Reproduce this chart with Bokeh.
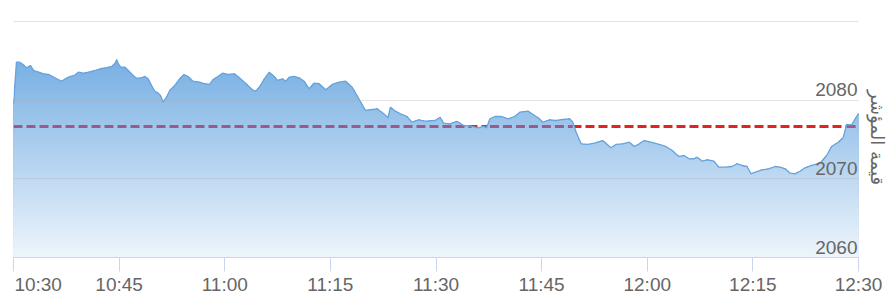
import numpy as np
from bokeh.plotting import figure
from bokeh.models import (ColumnDataSource, LabelSet, FixedTicker, Range1d,
                          LinearAxis)
from bokeh.core.properties import value
from bokeh.embed import file_html
from bokeh.resources import INLINE

# ---- data (minutes after 10:30, index value) ----
minutes = [0, 0.42, 0.89, 1.37, 1.84, 2.40, 2.87, 3.58, 4.28, 4.99,
           5.70, 6.40, 6.88, 7.35, 8.06, 8.62, 9.23, 9.94, 10.64, 11.59,
           12.30, 13.24, 13.95, 14.42, 14.66, 14.88, 15.22, 15.83, 16.30, 17.00,
           17.48, 18.19, 18.66, 19.12, 19.60, 20.07, 20.54, 20.88, 21.24, 21.72,
           22.19, 22.90, 23.60, 24.21, 24.78, 25.48, 26.43, 27.14, 27.84, 28.31,
           29.02, 29.72, 30.43, 31.38, 32.08, 33.03, 33.74, 34.35, 34.91, 35.62,
           36.32, 37.03, 37.50, 38.20, 38.68, 39.15, 39.86, 40.56, 41.27, 41.98,
           42.68, 43.39, 44.34, 45.27, 46.22, 47.16, 48.10, 49.04, 49.99, 50.70,
           51.63, 52.58, 53.19, 53.53, 54.23, 55.16, 55.87, 56.58, 57.53, 58.47,
           59.89, 60.59, 61.06, 62.01, 62.94, 63.42, 63.89, 65.06, 66.01, 66.71,
           67.18, 67.66, 68.37, 69.30, 70.25, 71.19, 71.90, 73.07, 73.78, 74.49,
           75.19, 76.14, 77.07, 78.02, 78.97, 79.43, 79.90, 80.61, 81.55, 82.50,
           83.67, 84.85, 85.55, 86.50, 87.45, 88.15, 88.86, 89.57, 90.50, 91.69,
           92.62, 93.57, 94.03, 94.51, 95.22, 95.93, 96.63, 97.10, 97.81, 98.51,
           99.46, 100.17, 101.10, 102.04, 102.75, 103.46, 104.17, 104.73, 105.34, 106.29,
           107.24, 108.17, 108.87, 109.58, 110.29, 110.99, 111.70, 112.41, 113.35, 114.53,
           115.48, 116.18, 117.13, 117.84, 118.31, 119.01, 119.82, 120.0]

index_values = [2079.62, 2084.88, 2084.88, 2084.59, 2084.17, 2084.46, 2083.82, 2083.61, 2083.40, 2083.31,
                2082.97, 2082.64, 2082.46, 2082.76, 2083.06, 2083.18, 2083.61, 2083.48, 2083.61, 2083.82,
                2084.04, 2084.17, 2084.33, 2084.75, 2085.22, 2084.68, 2084.24, 2084.24, 2083.82, 2083.18,
                2082.84, 2082.89, 2083.06, 2082.76, 2081.91, 2081.18, 2080.93, 2080.64, 2079.78, 2080.42,
                2081.27, 2081.91, 2082.76, 2083.31, 2083.06, 2082.46, 2082.33, 2082.13, 2082.04, 2082.64,
                2083.06, 2083.48, 2083.31, 2083.40, 2082.89, 2082.13, 2081.49, 2081.15, 2081.69, 2082.76,
                2083.61, 2083.06, 2082.55, 2082.76, 2082.46, 2082.97, 2083.06, 2082.89, 2082.46, 2081.49,
                2082.20, 2082.13, 2081.36, 2082.04, 2082.33, 2082.46, 2081.69, 2080.22, 2078.73, 2078.82,
                2078.94, 2078.31, 2077.80, 2079.15, 2078.64, 2078.22, 2077.96, 2077.24, 2077.54, 2077.36,
                2077.45, 2077.87, 2077.11, 2077.03, 2077.33, 2077.11, 2076.82, 2076.69, 2076.52, 2076.69,
                2076.52, 2077.67, 2077.96, 2077.96, 2077.67, 2077.96, 2078.51, 2078.64, 2078.22, 2077.80,
                2077.24, 2077.54, 2077.45, 2077.58, 2077.67, 2077.24, 2075.96, 2074.48, 2074.40, 2074.56,
                2074.90, 2073.97, 2074.40, 2074.48, 2074.69, 2074.14, 2074.48, 2074.90, 2074.69, 2074.40,
                2074.14, 2073.63, 2073.21, 2072.87, 2072.99, 2072.57, 2072.57, 2072.78, 2072.27, 2072.45,
                2072.27, 2071.50, 2071.50, 2071.59, 2071.94, 2071.72, 2071.59, 2070.66, 2070.87, 2071.17,
                2071.30, 2071.59, 2071.50, 2071.30, 2070.74, 2070.66, 2070.99, 2071.43, 2071.72, 2072.01,
                2072.99, 2074.14, 2074.69, 2075.29, 2076.94, 2076.88, 2078.09, 2078.34]

previous_close = 2076.69

x_tick_minutes = [0, 15, 30, 45, 60, 75, 90, 105, 120]
x_tick_labels = ["10:30", "10:45", "11:00", "11:15", "11:30", "11:45", "12:00", "12:15", "12:30"]
y_tick_values = [2060, 2070, 2080]
y_grid_values = [2070, 2080, 2090]
y_title = "قيمة المؤشر"

assert len(minutes) == len(index_values)

# ---- layout constants ----
W, H = 890, 305
FRAME_L, FRAME_R, FRAME_T, FRAME_B = 13, 862, 17, 257
Y0, Y1 = 2060, 2090.57
LABEL_FONT = "Liberation Sans"
LABEL_SIZE = 19
GREY = "#666666"

p = figure(width=W, height=H,
           x_range=Range1d(0, 120), y_range=Range1d(Y0, Y1),
           output_backend="svg", toolbar_location=None,
           x_axis_location="below", y_axis_location=None,
           min_border_left=FRAME_L, min_border_right=W - FRAME_R,
           min_border_top=FRAME_T, min_border_bottom=H - FRAME_B)
p.outline_line_color = None
p.background_fill_color = "white"
p.border_fill_color = "white"

p.xgrid.visible = False
p.ygrid.ticker = FixedTicker(ticks=y_grid_values)
p.ygrid.grid_line_color = "#b0b0b0"
p.ygrid.grid_line_alpha = 0.35
p.ygrid.grid_line_width = 1
p.ygrid.level = "annotation"

# axis 1: line + tick marks only
ax = p.xaxis[0]
ax.ticker = FixedTicker(ticks=x_tick_minutes)
ax.major_label_overrides = {t: "" for t in x_tick_minutes}
ax.major_label_text_font_size = "1px"
ax.major_label_standoff = 0
ax.axis_line_color = "#ccd6eb"
ax.major_tick_line_color = "#ccd6eb"
ax.major_tick_out = 14
ax.major_tick_in = 0
ax.minor_tick_line_color = None

# axis 2: tick labels only (first label sits to the right of its tick)
px_per_min = (FRAME_R - FRAME_L) / 120
first_label_w = (4 * 0.556 + 0.278) * LABEL_SIZE
label_pos = list(x_tick_minutes)
label_pos[0] = x_tick_minutes[0] + (1 + first_label_w / 2) / px_per_min
ax2 = LinearAxis(ticker=FixedTicker(ticks=label_pos),
                 major_label_overrides={pos: lab for pos, lab in zip(label_pos, x_tick_labels)},
                 axis_line_color=None, major_tick_line_color=None,
                 minor_tick_line_color=None, major_tick_out=0, major_tick_in=0,
                 major_label_standoff=2,
                 major_label_text_font=LABEL_FONT,
                 major_label_text_font_size=f"{LABEL_SIZE}px",
                 major_label_text_color=GREY)
p.add_layout(ax2, "below")

# right axis only carries the axis title
ax_r = LinearAxis(ticker=FixedTicker(ticks=[]), axis_label=y_title,
                  axis_line_color=None, major_tick_line_color=None,
                  minor_tick_line_color=None, major_tick_out=0, major_tick_in=0,
                  major_label_standoff=0, axis_label_standoff=8,
                  axis_label_text_font="DejaVu Sans",
                  axis_label_text_font_size="18px",
                  axis_label_text_font_style="normal",
                  axis_label_text_color=GREY)
p.add_layout(ax_r, "right")

DASH = "9 4"
# reference (dashed) line, red where the area does not cover it
p.hspan(y=[previous_close], line_color="#e3241e", line_width=3, line_dash=DASH)

# vertical gradient area: opaque bands, drawn from the top band downwards
vals = np.array(index_values)
deficit = np.array([217, 128, 45])  # white minus base blue


def band_color(level):
    op = min(0.66, 0.08 + 0.54 * (level - Y0) / 25.0)
    r, g, b = (255 - op * deficit).round().astype(int)
    return f"#{r:02x}{g:02x}{b:02x}"


step = 0.25
tops = np.arange(Y0 + step, vals.max() + step, step)[::-1]
for hi in tops:
    p.varea(x=minutes, y1=Y0, y2=np.minimum(vals, hi),
            fill_color=band_color(hi - step / 2))

# reference line where the area covers it (seen through the fill)
covered = np.where(vals >= previous_close, previous_close, np.nan)
p.line(minutes, covered, line_color="#9c5a8c", line_width=3, line_dash=DASH)

p.line(minutes, index_values, line_color="#67a3dc", line_width=1.3)

# y tick labels (inside plot, right aligned above grid line)
ysrc = ColumnDataSource(dict(
    x=[120] * len(y_tick_values), y=y_tick_values,
    text=[str(v) for v in y_tick_values],
))
p.add_layout(LabelSet(x="x", y="y", text="text", source=ysrc,
                      text_align="right", x_offset=-1, y_offset=4,
                      text_font=value(LABEL_FONT), text_font_size=f"{LABEL_SIZE}px",
                      text_color=GREY))

open("out.html", "w").write(file_html(p, INLINE))
